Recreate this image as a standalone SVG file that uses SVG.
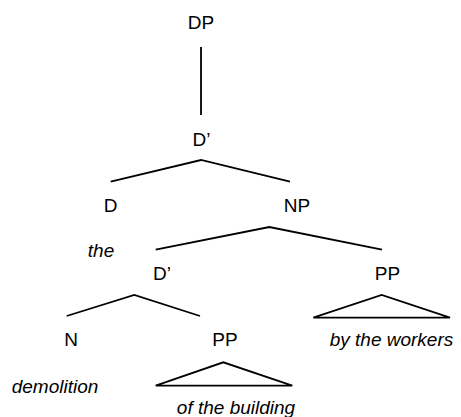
<svg xmlns="http://www.w3.org/2000/svg" width="461" height="417" viewBox="0 0 461 417">
<style>
text{font-family:"Liberation Sans",Arial,sans-serif;font-size:19px;fill:#000;text-anchor:middle}
.w{font-style:italic}
.e{fill:none;stroke:#000;stroke-width:1.8;stroke-linejoin:miter}
</style>
<rect width="461" height="417" fill="#fff"/>
<g id="connectors">
<line class="e" x1="201" y1="47" x2="201" y2="115"/>
<polyline class="e" points="110.7,181.7 201,160 290,181.7"/>
<polyline class="e" points="155.7,249.7 269.3,227 382,249.7"/>
<polyline class="e" points="66.7,316 134.3,295 200,316"/>
<polygon class="e" points="313.3,317.7 381.7,295 450,317.7"/>
<polygon class="e" points="155.7,385.7 223.3,362.3 292.3,385.7"/>
</g>
<g id="DP"><text x="201" y="29">DP</text></g>
<g id="Dbar1"><text x="201.5" y="146">D’</text></g>
<g id="D"><text x="110.5" y="212">D</text></g>
<g id="the"><text class="w" x="101" y="257">the</text></g>
<g id="NP"><text x="297" y="212">NP</text></g>
<g id="Dbar2"><text x="162" y="280">D’</text></g>
<g id="PP1"><text x="387.5" y="280">PP</text></g>
<g id="N"><text x="71" y="346">N</text></g>
<g id="PP2"><text x="225" y="346">PP</text></g>
<g id="byworkers"><text class="w" x="391.5" y="346">by the workers</text></g>
<g id="demolition"><text class="w" x="55" y="393">demolition</text></g>
<g id="ofbuilding"><text class="w" x="236" y="414">of the building</text></g>
</svg>
